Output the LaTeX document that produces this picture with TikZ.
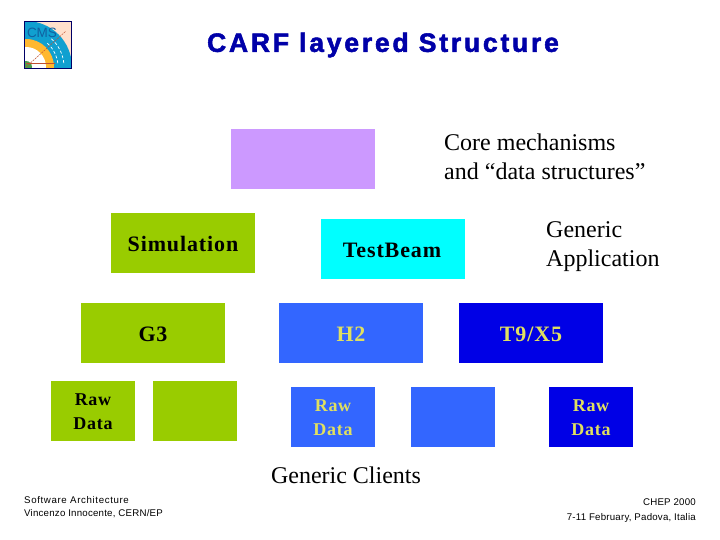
\documentclass[tikz,border=0pt]{standalone}
\usepackage{fontspec}
\setmainfont{Liberation Serif}
\newfontfamily\arialf[LetterSpace=2.2]{Liberation Sans}
\newfontfamily\arialw[LetterSpace=6.5]{Liberation Sans}
\newfontfamily\logof{Liberation Sans}
\newfontfamily\titlef[LetterSpace=10.5,BoldFeatures={FakeBold=2}]{Liberation Sans}
\newfontfamily\spacedf[LetterSpace=4]{Liberation Serif}
\definecolor{lilac}{HTML}{CC99FF}
\definecolor{leaf}{HTML}{99CC00}
\definecolor{aqua}{HTML}{00FFFF}
\definecolor{midblue}{HTML}{3366FF}
\definecolor{deepblue}{HTML}{0000E6}
\definecolor{titleblue}{HTML}{0000A8}
\definecolor{rawyellow}{HTML}{E0E060}
\definecolor{logoblue}{HTML}{10A0D0}
\definecolor{logopeach}{HTML}{FFE0CC}
\definecolor{logogold}{HTML}{FFB830}
\definecolor{logoink}{HTML}{1060A0}
\definecolor{logored}{HTML}{C05030}
\tikzset{
  box/.style={draw=none,inner sep=0pt,minimum width=#1pt,minimum height=60pt,anchor=north west},
  big/.style={font=\fontsize{24}{29}\selectfont,align=left,inner sep=0pt},
  lab/.style={font=\spacedf\bfseries\fontsize{22}{29}\selectfont,inner sep=0pt,align=center},
  rawt/.style={font=\spacedf\bfseries\fontsize{18}{24}\selectfont,inner sep=0pt,align=center},
  foot/.style={font=\arialf\fontsize{9.7}{18}\selectfont,inner sep=0pt}
}
\begin{document}
\begin{tikzpicture}[x=1pt,y=-1pt]
\useasboundingbox (0,0) rectangle (720,540);
% logo
\begin{scope}
\clip (24,21) rectangle (72,69);
\fill[logopeach] (24,21) rectangle (72,69);
\fill[logoblue] (26,67) circle[radius=46];
\fill[logogold] (26,67) circle[radius=28];
\fill[white] (26,67) circle[radius=20];
\fill[green!45!black!70] (26,67) circle[radius=6];
\draw[white,line width=.7pt,dash pattern=on 3pt off 2pt] (26,67) ++(-48:32) arc[start angle=-48,end angle=-5,radius=32];
\draw[white,line width=.7pt,dash pattern=on 3pt off 2pt] (26,67) ++(-48:38) arc[start angle=-48,end angle=-5,radius=38];
\draw[logored,line width=.5pt,dash pattern=on 2pt off 1pt] (26,67) -- (66,31);
\draw[logored,line width=.5pt] (26,63) -- (55,63);
\node[inner sep=0pt,text=logoink,font=\logof\fontsize{13.5}{13.5}\selectfont] (logotext) at (42,33) {CMS};
\end{scope}
\draw[blue!40!black,line width=.8pt] (24.4,21.4) rectangle (71.6,68.6);
% title
\node[inner sep=0pt,text=titleblue,font=\titlef\bfseries\fontsize{26.5}{29}\selectfont] (title) at (383,45) {CARF layered Structure};
% boxes
\node[box=144,fill=lilac] (core) at (231,129) {};
\node[big,anchor=west] (coretext) at (444,157) {Core mechanisms\\and “data structures”};
\node[box=144,fill=leaf] (sim) at (111,213) {};
\node[lab] (simtext) at (183,244) {Simulation};
\node[box=144,fill=aqua] (tb) at (321,219) {};
\node[lab] (tbtext) at (392,250) {TestBeam};
\node[big,anchor=west] (gen) at (546,247) {Generic\\Application};
\node[box=144,fill=leaf] (g3) at (81,303) {};
\node[lab] (g3text) at (153,334) {G3};
\node[box=144,fill=midblue] (h2) at (279,303) {};
\node[lab,text=rawyellow] (h2text) at (351,334) {H2};
\node[box=144,fill=deepblue] (t9) at (459,303) {};
\node[lab,text=rawyellow] (t9text) at (531,334) {T9/X5};
\node[box=84,fill=leaf] (r1) at (51,381) {};
\node[rawt] at (93,411.5) (r1t) {Raw\\Data};
\node[box=84,fill=leaf] (r2) at (153,381) {};
\node[box=84,fill=midblue] (r3) at (291,387) {};
\node[rawt,text=rawyellow] at (333,417.5) (r3t) {Raw\\Data};
\node[box=84,fill=midblue] (r4) at (411,387) {};
\node[box=84,fill=deepblue] (r5) at (549,387) {};
\node[rawt,text=rawyellow] at (591,417.5) (r5t) {Raw\\Data};
\node[inner sep=0pt,font=\fontsize{24}{29}\selectfont] (clients) at (346,475) {Generic Clients};
% footers
\node[inner sep=0pt,anchor=west,font=\arialw\fontsize{9.7}{18}\selectfont] (f1) at (24,500) {Software Architecture};
\node[foot,anchor=west] (f2) at (24,514) {Vincenzo Innocente, CERN/EP};
\node[foot,anchor=east] (f3) at (696,502.5) {CHEP 2000};
\node[foot,anchor=east] (f4) at (696,517.5) {7-11 February, Padova, Italia};
\end{tikzpicture}
\end{document}
